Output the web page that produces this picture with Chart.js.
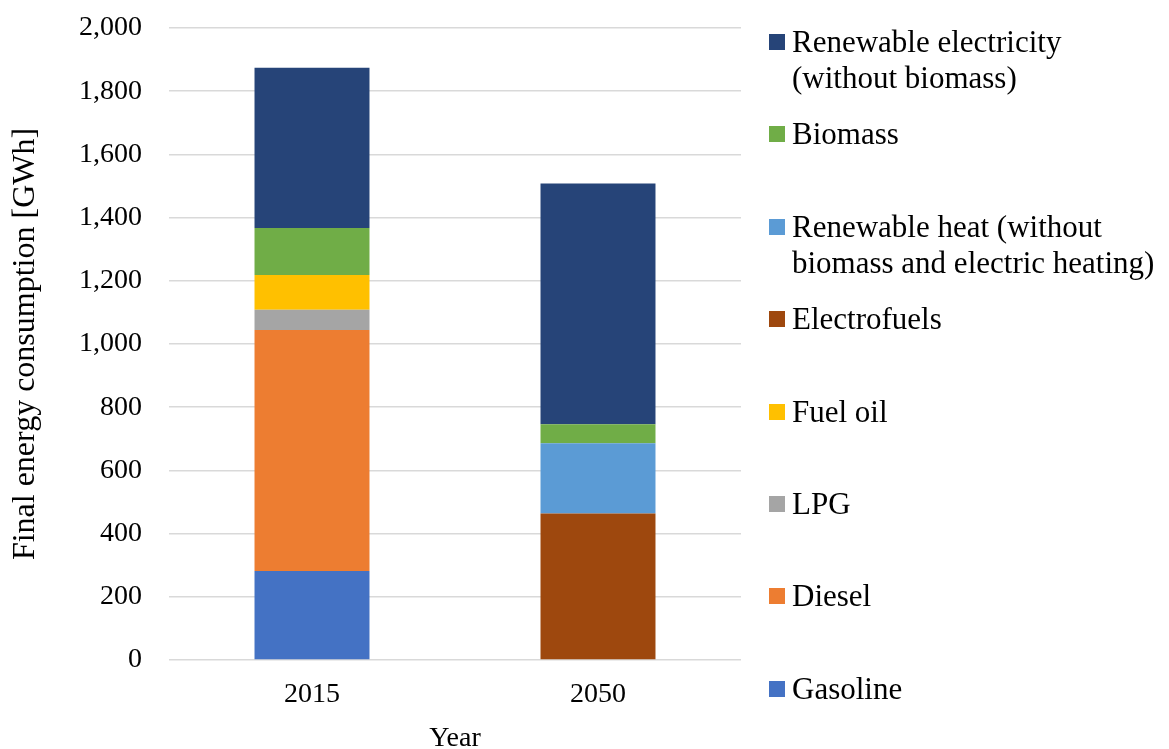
<!DOCTYPE html>
<html>
<head>
<meta charset="utf-8">
<script src="https://cdn.jsdelivr.net/npm/chart.js@4/dist/chart.umd.min.js"></script>
<style>
  html, body { margin: 0; padding: 0; background: #fff; overflow: hidden; width: 1169px; height: 749px; }
  #wrap { position: relative; width: 1169px; height: 760px; }
  #c { position: absolute; left: 0; top: 0; }
  #legend { position: absolute; left: 0; top: 0; width: 1169px; height: 749px; pointer-events: none;
    font-family: "Liberation Serif", "Times New Roman", serif; font-size: 31px; line-height: 36px; color: #000; }
  .item { position: absolute; left: 769px; white-space: nowrap; }
  .sw { position: absolute; left: 0; width: 16px; height: 16px; top: 10px; }
  .tx { position: absolute; left: 23px; top: 0; }
</style>
</head>
<body>
<div id="wrap">
  <canvas id="c" width="1169" height="760"></canvas>
  <div id="legend"></div>
</div>
<script>
// ---- data ----
const categories = ["2015", "2050"];
const seriesNames = ["Gasoline", "Diesel", "LPG", "Fuel oil", "Electrofuels",
  "Renewable heat (without biomass and electric heating)", "Biomass", "Renewable electricity (without biomass)"];
const legendLines = [["Gasoline"], ["Diesel"], ["LPG"], ["Fuel oil"], ["Electrofuels"],
  ["Renewable heat (without", "biomass and electric heating)"], ["Biomass"], ["Renewable electricity", "(without biomass)"]];
const gasoline = [282, null];
const diesel = [762, null];
const lpg = [64, null];
const fuelOil = [110, null];
const electrofuels = [null, 464];
const renewableHeat = [null, 222];
const biomass = [149, 60];
const renewableElectricity = [507, 762];
const seriesValues = [gasoline, diesel, lpg, fuelOil, electrofuels, renewableHeat, biomass, renewableElectricity];
const colors = ["#4472C4", "#ED7D31", "#A5A5A5", "#FFC000", "#9E480E", "#5B9BD5", "#70AD47", "#264478"];
const yTicks = [0, 200, 400, 600, 800, 1000, 1200, 1400, 1600, 1800, 2000];

const FONT = '"Liberation Serif", "Times New Roman", serif';

const datasets = seriesNames.map((n, i) => ({
  label: n,
  data: seriesValues[i],
  backgroundColor: colors[i],
  borderWidth: 0,
  barPercentage: 0.402,
  categoryPercentage: 1.0
}));

new Chart(document.getElementById('c'), {
  type: 'bar',
  data: { labels: categories, datasets },
  options: {
    responsive: false,
    devicePixelRatio: 1,
    animation: false,
    layout: { padding: { left: 0, right: 428, top: 28, bottom: 0 } },
    plugins: { legend: { display: false }, tooltip: { enabled: false } },
    scales: {
      x: {
        stacked: true,
        grid: { display: false, drawTicks: false },
        border: { display: false },
        ticks: { color: '#000', font: { family: FONT, size: 28 }, padding: 18 },
        title: { display: true, text: 'Year', color: '#000', font: { family: FONT, size: 28 }, padding: { top: 0, bottom: 5 } },
        afterFit: s => { s.height = 100; }
      },
      y: {
        stacked: true,
        min: 0, max: 2000,
        afterBuildTicks: s => { s.ticks = yTicks.map(v => ({ value: v })); },
        grid: { color: '#d9d9d9', lineWidth: 1.5, drawTicks: true, tickLength: 27, tickColor: 'rgba(0,0,0,0)' },
        border: { display: false },
        ticks: { color: '#000', font: { family: FONT, size: 28 }, padding: 0,
          callback: v => v.toLocaleString('en-US') },
        title: { display: true, text: 'Final energy consumption [GWh]', color: '#000', font: { family: FONT, size: 32 }, padding: { top: 6, bottom: 0 } },
        afterFit: s => { s.width = 169; }
      }
    }
  }
});

// ---- legend (reverse order, top to bottom) ----
const leg = document.getElementById('legend');
for (let k = 0; k < seriesNames.length; k++) {
  const i = seriesNames.length - 1 - k;
  const center = 42 + 92.4 * k;
  const it = document.createElement('div');
  it.className = 'item';
  it.style.top = (center - 18) + 'px';
  const sw = document.createElement('div');
  sw.className = 'sw';
  sw.style.background = colors[i];
  const tx = document.createElement('div');
  tx.className = 'tx';
  tx.innerHTML = legendLines[i].join('<br>');
  it.appendChild(sw); it.appendChild(tx);
  leg.appendChild(it);
}
</script>
</body>
</html>
